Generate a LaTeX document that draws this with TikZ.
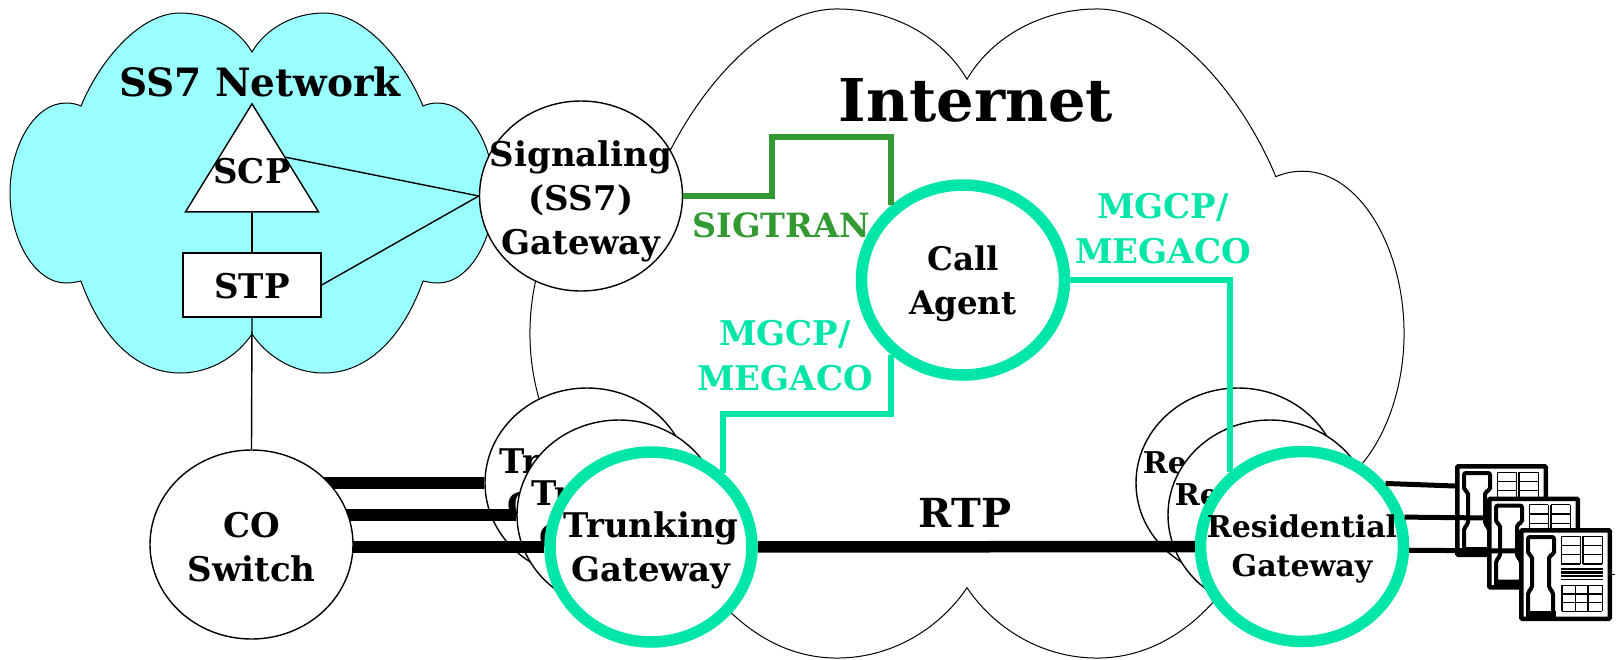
\documentclass[tikz,border=0pt]{standalone}
\usepackage{fontspec}
\setmainfont{DejaVu Serif}
\usetikzlibrary{positioning,shapes}

\definecolor{ss7blue}{HTML}{99FFFF}
\definecolor{mgcpgreen}{HTML}{00E5A8}
\definecolor{sigtrangreen}{HTML}{339933}

% one half of the cloud is mirrored for the other half
\newcommand{\cloudpath}{(0,-141)
	.. controls (-14,-165) and (-42,-180) .. (-72,-180)
	.. controls (-112,-180) and (-152,-133) .. (-171,-87)
	.. controls (-176,-89) and (-180,-90) .. (-186,-90)
	.. controls (-217,-90) and (-242,-48) .. (-242,0)
	.. controls (-242,47) and (-217,90) .. (-186,90)
	.. controls (-180,90) and (-176,89) .. (-171,88)
	.. controls (-152,142) and (-117,180) .. (-72,180)
	.. controls (-40,180) and (-14,162) .. (0,141)
	.. controls (14,162) and (40,180) .. (72,180)
	.. controls (117,180) and (152,142) .. (171,88)
	.. controls (176,89) and (180,90) .. (186,90)
	.. controls (217,90) and (242,47) .. (242,0)
	.. controls (242,-48) and (217,-90) .. (186,-90)
	.. controls (180,-90) and (176,-89) .. (171,-87)
	.. controls (152,-133) and (112,-180) .. (72,-180)
	.. controls (42,-180) and (14,-165) .. (0,-141) -- cycle}

% inside of a telephone, origin in the upper left corner of its box
\newcommand{\phonedetail}[1]{
\begin{scope}[shift={(#1.north west)}]
	\fill (7,83) rectangle (37,92);
	\draw [line width=4pt, fill=white, rounded corners=2pt] (9,9) -- (35,9) -- (35,26) -- (30,28) -- (30,60) -- (34,64) -- (34,85) -- (9,85) -- (9,64) -- (13,60) -- (13,28) -- (9,26) -- cycle;
	\foreach \y in {8.3,17.5,26.8,36}
	{
	\draw [griddraw] (42.3,\y) -- (61.3,\y);
	\draw [griddraw] (64,\y) -- (83.3,\y);
	}
	\foreach \x in {42.3,61.3,64,83.3}
	{
	\draw [griddraw] (\x,8.3) -- (\x,36);
	}
	\draw [griddraw] (42,41) -- (84,41);
	\draw [griddraw, line width=2.5pt] (42,44.5) -- (84,44.5);
	\draw [griddraw] (42,48) -- (84,48);
	\draw [griddraw] (42,51.5) -- (84,51.5);
	\foreach \y in {57.3,66,74.5,83.3}
	{
	\draw [griddraw] (43,\y) -- (83.3,\y);
	}
	\foreach \x in {43,56.7,69,83.3}
	{
	\draw [griddraw] (\x,57.3) -- (\x,83.3);
	}
\end{scope}
}

\begin{document}
\begin{tikzpicture}[x=1pt, y=-1pt,
cloud/.style={draw, line width=1pt},
thin edge/.style={draw, line width=1.4pt},
fat edge/.style={draw, line width=11.5pt},
phone edge/.style={draw, line width=5pt},
sig edge/.style={draw = sigtrangreen, line width=5.5pt},
mgcp edge/.style={draw = mgcpgreen, line width=5.5pt},
griddraw/.style={line width=1.1pt},
gateway/.style={ellipse, draw, line width=1.4pt, fill=white, inner sep=0pt, minimum width=204pt, minimum height=190pt},
agent/.style={ellipse, draw = mgcpgreen, line width=11.5pt, fill=white, inner sep=0pt, minimum width=202pt, minimum height=190pt},
gwtext/.style={align=center, inner sep=0pt, yshift=-3pt, font=\fontsize{34}{44}\selectfont\bfseries},
restext/.style={align=center, inner sep=0pt, yshift=-2pt, font=\fontsize{30}{39}\selectfont\bfseries},
sigtext/.style={inner sep=0pt, text = sigtrangreen, font=\fontsize{33.4}{44}\selectfont\bfseries},
mgcptext/.style={align=center, inner sep=0pt, text = mgcpgreen, font=\fontsize{34}{45}\selectfont\bfseries},
phonebox/.style={rectangle, draw, line width=4.5pt, fill=white, rounded corners=1pt, minimum width=88.5pt, minimum height=88.5pt, inner sep=0pt}]

\useasboundingbox (0,0) rectangle (1621,659);

%clouds
\draw [cloud, fill=white, shift={(967,333.5)}, xscale=1.806, yscale=1.803] \cloudpath;
\draw [cloud, fill=ss7blue, shift={(252,193)}] \cloudpath;

\node (internet) [inner sep=0pt, font=\fontsize{59}{60}\selectfont\bfseries] at (976,100) {Internet};
\node (ss7) [inner sep=0pt, font=\fontsize{39}{40}\selectfont\bfseries] at (260,82) {SS7 Network};

%inside the SS7 network
\node (scp) [isosceles triangle, shape border rotate=90, isosceles triangle stretches, draw, line width=1.4pt, fill=white, inner sep=0pt, minimum height=108pt, minimum width=133pt, anchor=apex] at (252,102) {};
\node (scplab) [gwtext, yshift=3pt] at (252,171) {SCP};
\node (stp) [rectangle, draw, line width=1.4pt, fill=white, minimum width=138pt, minimum height=64pt, inner sep=0pt] at (252,285) {};
\node (stplab) [gwtext, yshift=2pt] at (252,285) {STP};
\node (sg) [gateway, minimum width=203pt, label={[gwtext, yshift=-2pt]center:{Signaling\\(SS7)\\Gateway}}] at (581,196) {};

\draw [thin edge] (scp.lower side) -- (stp.north);
\draw [thin edge] (scp.right side) -- (sg.west);
\draw [thin edge] (stp.east) -- (sg.west);

%stack of trunking gateways, the trunks run on under the switch
\coordinate (cocentre) at (251.5,544.5);
\node (tg1) [gateway, label={[gwtext]center:{Trunking\\Gateway}}] at (587,483) {};
\draw [fat edge] (tg1.west) -- (tg1.west -| cocentre);
\node (tg2) [gateway, label={[gwtext]center:{Trunking\\Gateway}}] at (619,515) {};
\draw [fat edge] (tg2.west) -- (tg2.west -| cocentre);
\node (tg3) [agent, label={[gwtext]center:{Trunking\\Gateway}}] at (651,547) {};
\draw [fat edge] (tg3.west) -- (tg3.west -| cocentre);

\node (co) [gateway, minimum width=203pt, minimum height=189pt, label={[gwtext]center:{CO\\Switch}}] at (cocentre) {};
\draw [thin edge] (stp.south) -- (co.north);

%stack of residential gateways
\node (rg1) [gateway, label={[restext]center:{Residential\\Gateway}}] at (1238,483) {};
\node (rg2) [gateway, label={[restext]center:{Residential\\Gateway}}] at (1270,515) {};
\node (rg3) [agent, minimum width=203pt, minimum height=190pt, label={[restext]center:{Residential\\Gateway}}] at (1302,546.5) {};

\node (ca) [agent, minimum width=203pt, label={[gwtext, font=\fontsize{32.5}{44}\selectfont\bfseries, yshift=-1pt]center:{Call\\Agent}}] at (963,280) {};

\draw [fat edge] (tg3) -- (rg3);
\node (rtp) [gwtext, yshift=3pt, font=\fontsize{40}{44}\selectfont\bfseries] at (965,513) {RTP};

%signalling links
\coordinate (sigtop) at (772,137);
\draw [sig edge] (sg.east) -| (sigtop) -| (ca.134);
\node (sigtran) [sigtext] at (781,225) {SIGTRAN};

\coordinate (mgcpjog) at (723,414);
\draw [mgcp edge] (ca.226) |- (mgcpjog) -- (mgcpjog |- tg3.46);
\draw [mgcp edge] (ca.east) -| (rg3.134);
\node (mgcpl) [mgcptext] at (785,356) {MGCP/\\MEGACO};
\node (mgcpr) [mgcptext] at (1163,229) {MGCP/\\MEGACO};

%telephones
\coordinate (phone2in) at (1488,518);
\coordinate (phone3in) at (1519,551);
\node (phone1) [phonebox] at (1501.5,510.5) {};
\phonedetail{phone1}
\draw [phone edge] (rg3.37) -- ([yshift=-22pt]phone1.north west);
\draw [phone edge] (rg3.16) -- (phone2in);
\node (phone2) [phonebox] at (1533.5,543) {};
\phonedetail{phone2}
\draw [phone edge] (rg3.-2) -- (phone3in);
\node (phone3) [phonebox] at (1565.5,574.5) {};
\phonedetail{phone3}
\draw [line width=1pt] (phone3.east) -- ++(3,0);

\end{tikzpicture}
\end{document}
